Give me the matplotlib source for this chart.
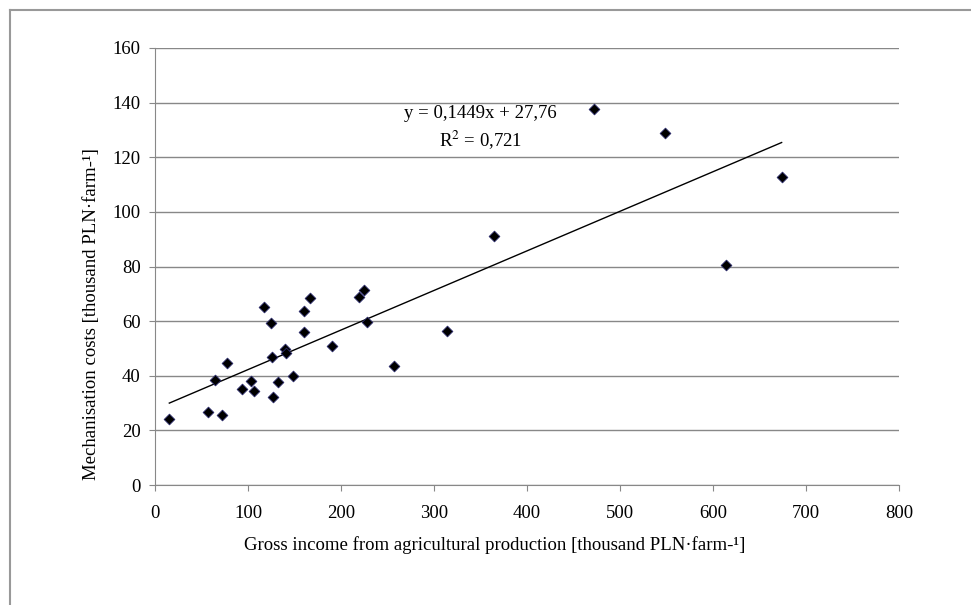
import matplotlib.pyplot as plt
import numpy as np

plt.rcParams['font.family'] = ['Liberation Serif', 'DejaVu Serif']
plt.rcParams['mathtext.fontset'] = 'stix'

# gross income [thousand PLN/farm] vs mechanisation costs [thousand PLN/farm]
income = [15.4, 56.6, 72.4, 64.9, 77.1, 93.2, 103.6, 106.1, 117.2, 125.1,
          125.4, 126.9, 131.9, 140.1, 141.2, 148.4, 160.6, 166.7, 160.6, 190.0,
          219.7, 224.4, 228.0, 257.3, 314.3, 364.2, 472.4, 548.4, 614.0, 673.8]
costs = [24.1, 26.6, 25.6, 38.4, 44.6, 35.2, 38.0, 34.5, 65.2, 59.3,
         46.9, 32.2, 37.7, 49.9, 48.2, 40.0, 63.8, 68.5, 55.9, 51.0,
         68.9, 71.3, 59.8, 43.7, 56.4, 91.3, 137.5, 129.0, 80.7, 112.8]

slope, intercept = 0.1449, 27.76

fig = plt.figure(figsize=(9.71, 6.05), dpi=100)
ax = fig.add_axes([155/971, 1-485/605, (899-155)/971, (485-48)/605])

ax.grid(axis='y', color='#888888', lw=1)
ax.set_axisbelow(True)

xl = np.array([min(income), max(income)])
ax.plot(xl, slope*xl + intercept, color='black', lw=1, zorder=2)
ax.scatter(income, costs, marker='D', s=30, c='black', edgecolors='#2a2a6a',
           linewidths=0.6, zorder=3)

ax.set_xlim(0, 800); ax.set_ylim(0, 160)
ax.set_xticks(range(0, 801, 100)); ax.set_yticks(range(0, 161, 20))
for s in ['top', 'right']:
    ax.spines[s].set_visible(False)
for s in ['left', 'bottom']:
    ax.spines[s].set_color('#888888')
ax.tick_params(colors='#888888', labelcolor='black', labelsize=13.5, length=4.3)
ax.tick_params(axis='x', pad=10)
ax.tick_params(axis='y', pad=6)

ax.set_xlabel('Gross income from agricultural production [thousand PLN·farm-¹]',
              fontsize=13.5, labelpad=10, x=0.457)
ax.set_ylabel('Mechanisation costs [thousand PLN·farm-¹]', fontsize=13.5,
              labelpad=9, y=0.391)

ax.text(350, 136, 'y = 0,1449x + 27,76', ha='center', va='center', fontsize=13.5)
ax.text(350, 126, 'R$^{2}$ = 0,721', ha='center', va='center', fontsize=13.5)

# outer chart frame (left and top edges visible)
fig.add_artist(plt.Line2D([10/971, 10/971], [0, 1-10/605], color='#999999', lw=1.5))
fig.add_artist(plt.Line2D([10/971, 1], [1-10/605, 1-10/605], color='#999999', lw=1.5))

fig.savefig('out.png', dpi=100)
